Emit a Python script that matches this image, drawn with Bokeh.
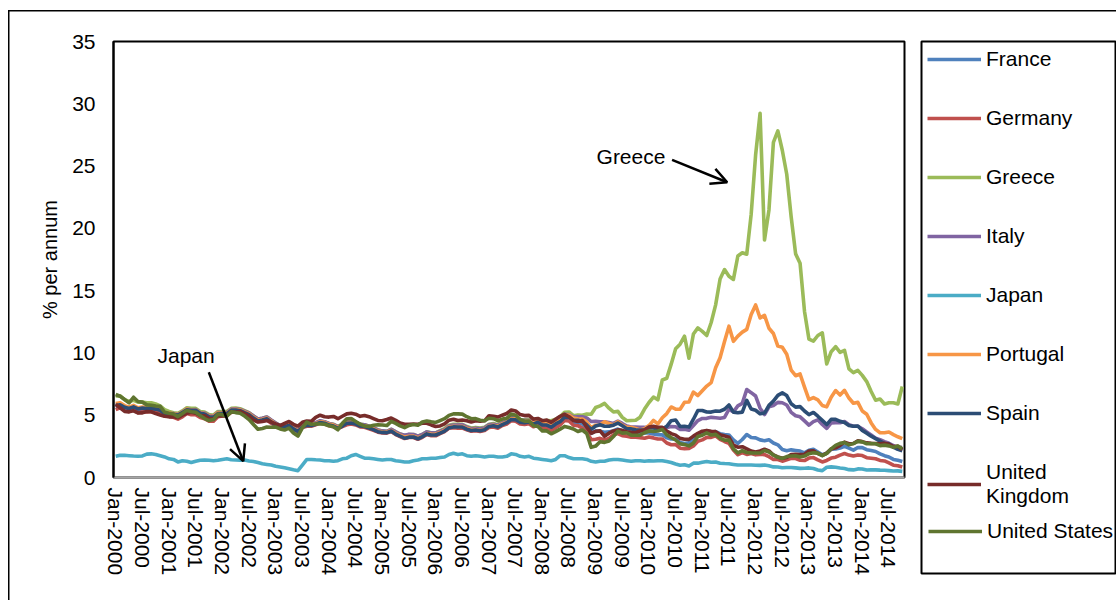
import pandas as pd
from bokeh.plotting import figure
from bokeh.layouts import row
from bokeh.models import (Range1d, FixedTicker, Legend, LegendItem, Label, Arrow,
                          OpenHead)
from bokeh.embed import file_html
from bokeh.resources import INLINE

# ---------------- data ----------------
months = pd.date_range("2000-01-01", "2014-10-01", freq="MS")
month_labels = [d.strftime("%b-%Y") for d in months]
x_idx = list(range(len(months)))

france = [5.67, 5.77, 5.59, 5.45, 5.56, 5.38, 5.46, 5.43, 5.46, 5.40, 5.33, 5.06,
          5.01, 4.97, 4.88, 5.07, 5.31, 5.22, 5.22, 5.00, 4.93, 4.70, 4.71, 5.04,
          5.09, 5.11, 5.38, 5.42, 5.39, 5.23, 5.08, 4.82, 4.59, 4.63, 4.72, 4.48,
          4.24, 4.03, 4.12, 4.21, 3.92, 3.72, 4.06, 4.18, 4.18, 4.28, 4.42, 4.36,
          4.23, 4.14, 3.96, 4.14, 4.33, 4.37, 4.29, 4.14, 4.10, 3.97, 3.84, 3.68,
          3.62, 3.60, 3.72, 3.49, 3.33, 3.16, 3.25, 3.26, 3.11, 3.28, 3.48, 3.40,
          3.41, 3.56, 3.72, 3.98, 4.05, 4.04, 4.04, 3.87, 3.76, 3.79, 3.74, 3.82,
          4.08, 4.13, 4.04, 4.24, 4.38, 4.64, 4.63, 4.41, 4.38, 4.41, 4.23, 4.41,
          4.19, 4.14, 3.94, 4.17, 4.35, 4.70, 4.70, 4.41, 4.43, 4.29, 3.93, 3.54,
          3.74, 3.71, 3.63, 3.66, 3.76, 3.89, 3.74, 3.63, 3.62, 3.56, 3.57, 3.58,
          3.57, 3.49, 3.43, 3.42, 3.19, 3.09, 3.09, 2.80, 2.73, 2.79, 3.05, 3.39,
          3.46, 3.66, 3.64, 3.68, 3.52, 3.45, 3.41, 3.02, 2.74, 3.05, 3.45, 3.21,
          3.18, 3.02, 2.95, 3.03, 2.77, 2.62, 2.25, 2.15, 2.22, 2.17, 2.12, 1.98,
          2.19, 2.27, 2.05, 1.82, 1.95, 2.27, 2.29, 2.37, 2.51, 2.36, 2.20, 2.41,
          2.40, 2.23, 2.16, 2.09, 1.90, 1.75, 1.65, 1.45, 1.38, 1.28]

germany = [5.45, 5.59, 5.43, 5.30, 5.43, 5.20, 5.30, 5.27, 5.30, 5.25, 5.20, 4.94,
           4.91, 4.83, 4.69, 4.87, 5.13, 5.04, 5.04, 4.82, 4.72, 4.51, 4.52, 4.87,
           4.94, 4.98, 5.24, 5.28, 5.24, 5.10, 4.98, 4.71, 4.49, 4.52, 4.61, 4.36,
           4.13, 3.95, 4.05, 4.14, 3.85, 3.65, 4.02, 4.12, 4.12, 4.23, 4.37, 4.30,
           4.15, 4.08, 3.92, 4.08, 4.23, 4.30, 4.22, 4.06, 4.03, 3.90, 3.78, 3.64,
           3.57, 3.56, 3.69, 3.45, 3.29, 3.13, 3.21, 3.21, 3.07, 3.23, 3.45, 3.36,
           3.35, 3.53, 3.69, 3.96, 3.99, 3.96, 3.96, 3.83, 3.72, 3.76, 3.70, 3.77,
           4.02, 4.06, 3.96, 4.17, 4.30, 4.56, 4.52, 4.29, 4.25, 4.32, 4.07, 4.22,
           4.02, 3.96, 3.76, 3.99, 4.22, 4.58, 4.53, 4.19, 4.16, 3.96, 3.63, 3.03,
           3.07, 3.14, 3.02, 3.13, 3.42, 3.53, 3.36, 3.32, 3.24, 3.23, 3.20, 3.15,
           3.25, 3.18, 3.09, 3.09, 2.77, 2.63, 2.64, 2.35, 2.32, 2.33, 2.53, 2.91,
           3.02, 3.22, 3.22, 3.34, 3.06, 2.89, 2.74, 2.21, 1.83, 2.00, 1.85, 1.93,
           1.82, 1.85, 1.84, 1.67, 1.45, 1.44, 1.31, 1.42, 1.54, 1.52, 1.39, 1.36,
           1.56, 1.60, 1.41, 1.25, 1.37, 1.56, 1.63, 1.80, 1.93, 1.80, 1.72, 1.80,
           1.76, 1.59, 1.55, 1.50, 1.37, 1.33, 1.17, 0.99, 0.95, 0.84]

greece = [6.55, 6.55, 6.25, 6.10, 6.20, 6.05, 6.05, 6.00, 6.00, 5.90, 5.75, 5.45,
          5.30, 5.20, 5.15, 5.35, 5.60, 5.55, 5.55, 5.30, 5.25, 5.05, 5.00, 5.30,
          5.30, 5.30, 5.55, 5.58, 5.52, 5.37, 5.21, 4.94, 4.70, 4.76, 4.85, 4.60,
          4.37, 4.15, 4.23, 4.32, 4.02, 3.80, 4.15, 4.30, 4.28, 4.39, 4.53, 4.46,
          4.33, 4.27, 4.10, 4.29, 4.51, 4.52, 4.44, 4.28, 4.24, 4.12, 3.98, 3.82,
          3.73, 3.70, 3.87, 3.66, 3.49, 3.38, 3.45, 3.45, 3.32, 3.46, 3.67, 3.59,
          3.59, 3.76, 3.93, 4.20, 4.28, 4.27, 4.27, 4.09, 3.98, 4.02, 3.97, 4.04,
          4.28, 4.33, 4.24, 4.43, 4.57, 4.83, 4.83, 4.64, 4.64, 4.66, 4.53, 4.69,
          4.51, 4.58, 4.55, 4.67, 4.87, 5.24, 5.26, 4.96, 5.01, 5.00, 5.09, 5.08,
          5.62, 5.75, 5.95, 5.56, 5.26, 5.31, 4.83, 4.56, 4.58, 4.59, 4.84, 5.49,
          6.02, 6.46, 6.24, 7.83, 7.97, 9.10, 10.34, 10.70, 11.34, 9.57, 11.52, 12.01,
          11.73, 11.40, 12.44, 13.86, 15.94, 16.69, 16.15, 15.90, 17.78, 18.04, 17.92, 21.14,
          25.91, 29.24, 19.07, 21.48, 26.90, 27.82, 26.27, 24.34, 20.91, 17.95, 17.20, 13.33,
          11.10, 10.94, 11.40, 11.61, 9.12, 10.10, 10.50, 10.05, 10.21, 8.72, 8.42, 8.60,
          8.20, 7.70, 6.90, 6.20, 6.30, 5.90, 6.00, 6.00, 5.90, 7.30]

italy = [5.77, 5.83, 5.62, 5.52, 5.67, 5.53, 5.59, 5.55, 5.57, 5.53, 5.47, 5.19,
         5.16, 5.14, 5.06, 5.27, 5.49, 5.44, 5.45, 5.21, 5.17, 4.97, 4.95, 5.23,
         5.20, 5.22, 5.49, 5.51, 5.46, 5.32, 5.18, 4.93, 4.69, 4.75, 4.86, 4.61,
         4.38, 4.17, 4.22, 4.30, 4.00, 3.80, 4.18, 4.30, 4.30, 4.41, 4.56, 4.48,
         4.34, 4.26, 4.07, 4.25, 4.48, 4.49, 4.42, 4.27, 4.23, 4.12, 3.98, 3.82,
         3.74, 3.71, 3.87, 3.66, 3.49, 3.39, 3.47, 3.45, 3.31, 3.45, 3.66, 3.58,
         3.57, 3.71, 3.86, 4.13, 4.22, 4.21, 4.23, 4.04, 3.92, 3.96, 3.91, 3.97,
         4.23, 4.28, 4.19, 4.39, 4.53, 4.80, 4.80, 4.59, 4.60, 4.58, 4.45, 4.59,
         4.41, 4.43, 4.37, 4.51, 4.69, 5.07, 5.06, 4.86, 4.88, 4.88, 4.78, 4.49,
         4.52, 4.48, 4.48, 4.42, 4.34, 4.52, 4.34, 4.13, 4.05, 4.04, 4.03, 4.02,
         4.08, 4.05, 3.91, 3.99, 4.01, 4.10, 4.07, 3.86, 3.87, 3.80, 4.17, 4.57,
         4.74, 4.75, 4.83, 4.80, 4.76, 4.82, 5.48, 5.27, 5.75, 5.95, 7.06, 6.81,
         6.54, 5.56, 5.05, 5.68, 5.78, 6.03, 6.00, 5.82, 5.23, 4.96, 4.87, 4.54,
         4.21, 4.49, 4.63, 4.26, 3.94, 4.38, 4.40, 4.40, 4.49, 4.24, 4.11, 4.11,
         3.91, 3.65, 3.41, 3.16, 3.04, 2.88, 2.75, 2.57, 2.38, 2.43]

japan = [1.70, 1.78, 1.78, 1.75, 1.72, 1.70, 1.73, 1.88, 1.90, 1.85, 1.75, 1.65,
         1.50, 1.45, 1.25, 1.35, 1.30, 1.20, 1.30, 1.38, 1.40, 1.38, 1.35, 1.38,
         1.45, 1.50, 1.42, 1.40, 1.38, 1.40, 1.32, 1.28, 1.20, 1.10, 1.05, 1.00,
         0.90, 0.85, 0.78, 0.70, 0.62, 0.55, 1.00, 1.45, 1.45, 1.42, 1.40, 1.35,
         1.35, 1.30, 1.35, 1.50, 1.55, 1.75, 1.85, 1.70, 1.55, 1.55, 1.50, 1.45,
         1.40, 1.45, 1.45, 1.35, 1.30, 1.25, 1.25, 1.35, 1.40, 1.50, 1.50, 1.55,
         1.55, 1.60, 1.65, 1.85, 1.95, 1.85, 1.90, 1.75, 1.70, 1.75, 1.70, 1.65,
         1.70, 1.70, 1.65, 1.65, 1.70, 1.90, 1.85, 1.70, 1.65, 1.70, 1.55, 1.50,
         1.45, 1.40, 1.35, 1.45, 1.75, 1.75, 1.60, 1.50, 1.50, 1.50, 1.45, 1.30,
         1.25, 1.30, 1.30, 1.40, 1.45, 1.45, 1.40, 1.35, 1.30, 1.35, 1.35, 1.30,
         1.35, 1.32, 1.35, 1.35, 1.28, 1.20, 1.08, 0.98, 1.02, 0.92, 1.15, 1.15,
         1.22, 1.28, 1.22, 1.25, 1.15, 1.12, 1.10, 1.05, 1.00, 1.00, 1.00, 1.00,
         0.98, 0.97, 1.00, 0.95, 0.85, 0.84, 0.78, 0.80, 0.80, 0.77, 0.73, 0.74,
         0.77, 0.72, 0.60, 0.55, 0.82, 0.85, 0.82, 0.76, 0.72, 0.63, 0.61, 0.69,
         0.68, 0.60, 0.62, 0.61, 0.59, 0.58, 0.55, 0.52, 0.53, 0.49]

portugal = [5.93, 5.99, 5.77, 5.64, 5.79, 5.60, 5.66, 5.64, 5.65, 5.59, 5.51, 5.21,
            5.18, 5.12, 5.06, 5.26, 5.49, 5.42, 5.42, 5.19, 5.14, 4.94, 4.92, 5.20,
            5.17, 5.19, 5.45, 5.47, 5.42, 5.27, 5.12, 4.85, 4.61, 4.67, 4.77, 4.53,
            4.28, 4.06, 4.14, 4.24, 3.95, 3.74, 4.09, 4.24, 4.24, 4.33, 4.48, 4.43,
            4.29, 4.21, 4.01, 4.19, 4.40, 4.43, 4.35, 4.19, 4.15, 4.03, 3.90, 3.74,
            3.67, 3.65, 3.78, 3.56, 3.39, 3.24, 3.31, 3.32, 3.20, 3.32, 3.52, 3.48,
            3.47, 3.62, 3.79, 4.06, 4.12, 4.10, 4.11, 3.95, 3.83, 3.86, 3.80, 3.88,
            4.13, 4.20, 4.11, 4.31, 4.45, 4.72, 4.71, 4.52, 4.52, 4.52, 4.37, 4.54,
            4.35, 4.40, 4.33, 4.48, 4.64, 5.01, 5.02, 4.78, 4.72, 4.70, 4.45, 4.00,
            4.20, 4.21, 4.48, 4.33, 4.21, 4.48, 4.20, 4.05, 4.03, 3.93, 3.82, 3.92,
            4.17, 4.59, 4.30, 4.80, 5.13, 5.66, 5.49, 5.48, 6.04, 6.06, 6.86, 6.58,
            6.96, 7.34, 7.62, 8.81, 9.62, 10.92, 12.15, 10.93, 11.35, 11.67, 11.89, 13.08,
            13.85, 12.81, 13.02, 11.98, 11.56, 10.55, 10.46, 9.89, 8.62, 8.17, 8.31, 7.25,
            6.25, 6.41, 6.23, 5.78, 5.67, 6.45, 6.98, 6.62, 7.00, 6.38, 5.96, 6.03,
            5.34, 5.08, 4.38, 3.86, 3.59, 3.59, 3.65, 3.44, 3.27, 3.12]

spain = [5.78, 5.84, 5.64, 5.54, 5.67, 5.50, 5.57, 5.53, 5.55, 5.49, 5.40, 5.11,
         5.09, 5.07, 5.01, 5.22, 5.44, 5.39, 5.39, 5.15, 5.10, 4.87, 4.85, 5.13,
         5.13, 5.13, 5.41, 5.42, 5.36, 5.20, 5.05, 4.77, 4.54, 4.61, 4.71, 4.46,
         4.22, 4.02, 4.10, 4.18, 3.90, 3.69, 4.05, 4.18, 4.17, 4.28, 4.42, 4.36,
         4.21, 4.13, 3.94, 4.13, 4.35, 4.37, 4.29, 4.13, 4.09, 3.97, 3.84, 3.68,
         3.62, 3.60, 3.73, 3.49, 3.33, 3.15, 3.24, 3.25, 3.11, 3.28, 3.50, 3.41,
         3.41, 3.56, 3.73, 4.00, 4.06, 4.05, 4.05, 3.88, 3.77, 3.81, 3.76, 3.83,
         4.10, 4.15, 4.05, 4.25, 4.40, 4.66, 4.64, 4.43, 4.39, 4.45, 4.28, 4.44,
         4.22, 4.21, 4.04, 4.30, 4.48, 4.84, 4.83, 4.61, 4.60, 4.50, 4.22, 3.86,
         4.13, 4.24, 4.12, 4.11, 4.20, 4.37, 4.15, 3.92, 3.90, 3.83, 3.80, 3.82,
         4.00, 3.98, 3.83, 3.91, 4.10, 4.56, 4.62, 4.09, 4.11, 4.05, 4.68, 5.38,
         5.38, 5.26, 5.25, 5.33, 5.32, 5.48, 5.82, 5.25, 5.20, 5.25, 6.19, 5.50,
         5.40, 5.11, 5.17, 5.79, 6.13, 6.59, 6.79, 6.58, 5.92, 5.65, 5.69, 5.34,
         5.05, 5.22, 4.92, 4.59, 4.25, 4.67, 4.67, 4.51, 4.42, 4.17, 4.11, 4.14,
         3.78, 3.56, 3.32, 3.12, 2.92, 2.72, 2.70, 2.44, 2.26, 2.14]

united_kingdom = [5.87, 5.60, 5.31, 5.27, 5.35, 5.18, 5.19, 5.30, 5.28, 5.13, 5.02, 4.92,
                  4.87, 4.87, 4.80, 5.01, 5.15, 5.24, 5.16, 4.98, 4.95, 4.73, 4.70, 4.97,
                  4.94, 4.97, 5.28, 5.24, 5.30, 5.13, 4.93, 4.62, 4.45, 4.49, 4.58, 4.45,
                  4.30, 4.17, 4.35, 4.50, 4.27, 4.13, 4.43, 4.54, 4.51, 4.83, 5.00, 4.88,
                  4.85, 4.90, 4.72, 4.92, 5.11, 5.16, 5.08, 4.91, 4.98, 4.88, 4.73, 4.58,
                  4.55, 4.65, 4.77, 4.59, 4.37, 4.27, 4.28, 4.30, 4.27, 4.35, 4.35, 4.22,
                  4.10, 4.14, 4.30, 4.60, 4.68, 4.57, 4.61, 4.56, 4.45, 4.55, 4.51, 4.55,
                  4.96, 4.92, 4.85, 5.00, 5.14, 5.42, 5.34, 5.05, 4.97, 4.99, 4.69, 4.74,
                  4.56, 4.61, 4.43, 4.67, 4.91, 5.08, 4.88, 4.57, 4.50, 4.58, 4.04, 3.55,
                  3.70, 3.74, 3.31, 3.56, 3.74, 3.82, 3.78, 3.67, 3.62, 3.59, 3.74, 3.81,
                  4.05, 4.11, 4.03, 4.03, 3.73, 3.52, 3.40, 3.14, 3.07, 3.06, 3.32, 3.54,
                  3.72, 3.78, 3.71, 3.68, 3.44, 3.34, 3.23, 2.59, 2.43, 2.47, 2.30, 2.12,
                  2.05, 2.13, 2.27, 2.14, 1.81, 1.65, 1.54, 1.60, 1.84, 1.86, 1.84, 1.87,
                  2.12, 2.14, 1.92, 1.77, 1.96, 2.29, 2.38, 2.58, 2.84, 2.71, 2.73, 2.94,
                  2.88, 2.78, 2.74, 2.73, 2.70, 2.74, 2.66, 2.48, 2.51, 2.24]

united_states = [6.66, 6.52, 6.26, 5.99, 6.44, 6.10, 6.05, 5.83, 5.80, 5.74, 5.72, 5.24,
                 5.16, 5.10, 4.89, 5.14, 5.39, 5.28, 5.24, 4.97, 4.73, 4.57, 4.65, 5.09,
                 5.04, 4.91, 5.28, 5.21, 5.16, 4.93, 4.65, 4.26, 3.87, 3.94, 4.05, 4.03,
                 4.05, 3.90, 3.81, 3.96, 3.57, 3.33, 3.98, 4.45, 4.27, 4.29, 4.30, 4.27,
                 4.15, 4.08, 3.83, 4.35, 4.72, 4.73, 4.50, 4.28, 4.13, 4.10, 4.19, 4.23,
                 4.22, 4.17, 4.50, 4.34, 4.14, 4.00, 4.18, 4.26, 4.20, 4.46, 4.54, 4.47,
                 4.42, 4.57, 4.72, 4.99, 5.11, 5.11, 5.09, 4.88, 4.72, 4.73, 4.60, 4.56,
                 4.76, 4.72, 4.56, 4.69, 4.75, 5.10, 5.00, 4.67, 4.52, 4.53, 4.15, 4.10,
                 3.74, 3.74, 3.51, 3.68, 3.88, 4.10, 4.01, 3.89, 3.69, 3.81, 3.53, 2.42,
                 2.52, 2.87, 2.82, 2.93, 3.29, 3.72, 3.56, 3.59, 3.40, 3.39, 3.40, 3.59,
                 3.73, 3.69, 3.73, 3.85, 3.42, 3.20, 3.01, 2.70, 2.65, 2.54, 2.76, 3.29,
                 3.39, 3.58, 3.41, 3.46, 3.17, 3.00, 3.00, 2.30, 1.98, 2.15, 2.01, 1.98,
                 1.97, 1.97, 2.17, 2.05, 1.80, 1.62, 1.53, 1.68, 1.72, 1.75, 1.65, 1.72,
                 1.91, 1.98, 1.96, 1.76, 1.93, 2.30, 2.58, 2.74, 2.81, 2.62, 2.72, 2.90,
                 2.86, 2.71, 2.72, 2.71, 2.56, 2.60, 2.54, 2.42, 2.53, 2.30]

series_names = ["France", "Germany", "Greece", "Italy", "Japan", "Portugal",
                "Spain", "United\nKingdom", "United States"]
series_values = [france, germany, greece, italy, japan, portugal,
                 spain, united_kingdom, united_states]
series_colors = ["#4F81BD", "#C0504D", "#9BBB59", "#8064A2", "#4BACC6",
                 "#F79646", "#2C4D75", "#772C2A", "#5F7530"]

y_ticks = [0, 5, 10, 15, 20, 25, 30, 35]
x_ticks = list(range(0, len(months), 6))

# annotation positions (data units)
greece_note = dict(text="Greece", x=108.2, y=25.77, ax0=125.2, ay0=25.5, ax1=137.6, ay1=23.7)
japan_note = dict(text="Japan", x=9.4, y=9.79, ax0=20.95, ay0=8.45, ax1=28.7, ay1=1.31)

FONT = "Liberation Sans"
LINE_W = 3.6

# outer chart border, drawn as two thin lines on the page background
outer_border = {
    "background": ("linear-gradient(#000,#000) 8px 10px / 1.5px 100% no-repeat, "
                   "linear-gradient(#000,#000) 8px 10px / 100% 1.5px no-repeat, #fff"),
}

# ---------------- main chart ----------------
fig = figure(width=919, height=600, output_backend="svg", toolbar_location=None,
             x_range=Range1d(-0.5, len(months) - 0.5), y_range=Range1d(0, 35),
             min_border_left=113, min_border_right=15, min_border_top=41,
             min_border_bottom=123, frame_align=False)
fig.xgrid.visible = False
fig.ygrid.visible = False
fig.outline_line_color = "black"
fig.outline_line_width = 2
fig.background_fill_color = "white"
fig.border_fill_alpha = 0

for vals, col in zip(series_values, series_colors):
    fig.line(x_idx, vals, line_color=col, line_width=LINE_W, line_join="round")

fig.yaxis.ticker = FixedTicker(ticks=y_ticks)
fig.yaxis.axis_line_color = "black"
fig.yaxis.axis_line_width = 2
fig.yaxis.major_tick_line_color = None
fig.yaxis.minor_tick_line_color = None
fig.yaxis.major_tick_out = 0
fig.yaxis.major_tick_in = 0
fig.yaxis.major_label_standoff = 18
fig.yaxis.major_label_text_font = FONT
fig.yaxis.major_label_text_font_size = "21px"
fig.yaxis.major_label_text_color = "black"
fig.yaxis.axis_label = "% per annum"
fig.yaxis.axis_label_text_font = FONT
fig.yaxis.axis_label_text_font_size = "20px"
fig.yaxis.axis_label_text_font_style = "normal"
fig.yaxis.axis_label_text_color = "black"
fig.yaxis.axis_label_standoff = 8

fig.xaxis.ticker = FixedTicker(ticks=x_ticks)
fig.xaxis.major_label_overrides = {i: month_labels[i] for i in x_ticks}
fig.xaxis.major_label_orientation = "vertical"
fig.xaxis.axis_line_color = "#A6A6A6"
fig.xaxis.axis_line_width = 2
fig.xaxis.major_tick_line_color = None
fig.xaxis.minor_tick_line_color = None
fig.xaxis.major_tick_out = 0
fig.xaxis.major_tick_in = 0
fig.xaxis.major_label_standoff = 10
fig.xaxis.major_label_text_font = FONT
fig.xaxis.major_label_text_font_size = "21px"
fig.xaxis.major_label_text_color = "black"

for note in (greece_note, japan_note):
    fig.add_layout(Label(x=note["x"], y=note["y"], text=note["text"],
                         text_font=FONT, text_font_size="21px", text_color="black",
                         text_baseline="middle", text_align="left"))
    fig.add_layout(Arrow(x_start=note["ax0"], y_start=note["ay0"],
                         x_end=note["ax1"], y_end=note["ay1"], line_width=2.5,
                         line_color="black",
                         end=OpenHead(size=16, line_width=2.5, line_color="black")))

# ---------------- legend panel (its frame outline is the legend box) ----------------
leg = figure(width=197, height=600, output_backend="svg", toolbar_location=None,
             x_range=Range1d(0, 1), y_range=Range1d(0, 1),
             x_axis_type=None, y_axis_type=None,
             min_border_left=2, min_border_right=0, min_border_top=41,
             min_border_bottom=27, frame_align=False)
leg.xgrid.visible = False
leg.ygrid.visible = False
leg.outline_line_color = "black"
leg.outline_line_width = 2
leg.background_fill_color = "white"
leg.border_fill_alpha = 0

# legend keys only (a single missing point each, nothing drawn in the panel)
nan = float("nan")
keys = [leg.line([nan], [nan], line_color=col, line_width=LINE_W) for col in series_colors]
items = [LegendItem(label=n, renderers=[k]) for n, k in zip(series_names, keys)]

legend_style = dict(padding=6, spacing=35, label_height=24, glyph_height=24,
                    glyph_width=54, label_standoff=5, label_text_font=FONT,
                    label_text_font_size="21px", label_text_color="black",
                    border_line_color=None, background_fill_alpha=0)
legend_main = Legend(items=items[:-1], location="top_left", margin=6, **legend_style)
legend_last = Legend(items=items[-1:], location=(7, 30), margin=0, **legend_style)
leg.add_layout(legend_main, "center")
leg.add_layout(legend_last, "center")

p = row(fig, leg, styles=outer_border)

open("out.html", "w").write(file_html(p, INLINE))
